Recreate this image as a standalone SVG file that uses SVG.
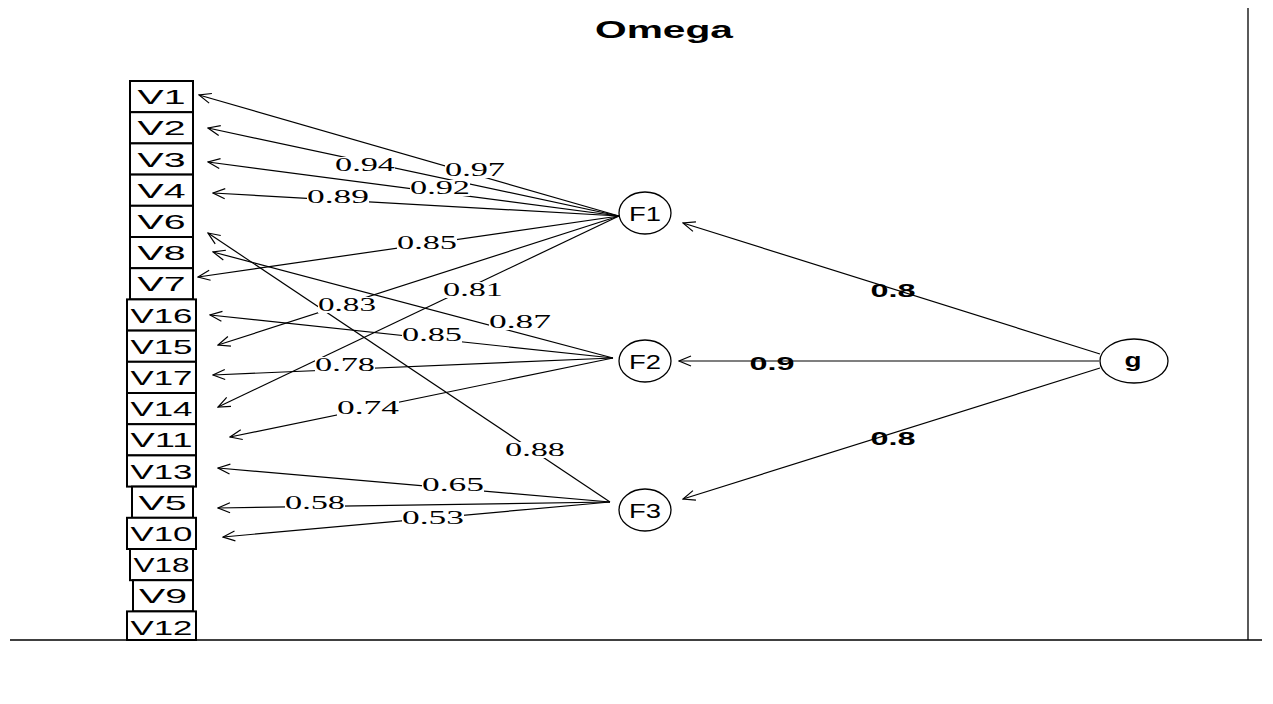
<svg xmlns="http://www.w3.org/2000/svg" width="1273" height="704" viewBox="0 0 1273 704">
<defs>
<marker id="ah" markerWidth="14" markerHeight="12" refX="13" refY="6" orient="auto" markerUnits="userSpaceOnUse">
<path d="M1,1 L13,6 L1,11" fill="none" stroke="#000" stroke-width="1.2"/>
</marker>
<style>
.box{fill:#fff;stroke:#000;stroke-width:2}
.vt{font-family:"Liberation Sans",Arial,sans-serif;font-size:21px;fill:#000;text-anchor:middle}
.ell{fill:#fff;stroke:#000;stroke-width:1.3}
.ft{font-family:"Liberation Sans",Arial,sans-serif;font-size:21px;fill:#000;text-anchor:middle}
.edge{stroke:#000;stroke-width:1.2;fill:none;marker-end:url(#ah)}
.lbg{fill:#fff}
.lt{font-family:"Liberation Serif","Times New Roman",serif;font-size:18px;fill:#000;text-anchor:middle}
.gt{font-family:"Liberation Sans",Arial,sans-serif;font-size:18px;font-weight:bold;fill:#000;text-anchor:middle}
.frame{stroke:#000;stroke-width:1.3}
</style>
</defs>
<rect width="1273" height="704" fill="#fff"/>
<text x="664" y="38" font-family="Liberation Sans,Arial,sans-serif" font-size="23" font-weight="bold" text-anchor="middle" textLength="138" lengthAdjust="spacingAndGlyphs">Omega</text>
<line class="frame" x1="1248" y1="8" x2="1248" y2="640"/>
<line class="frame" x1="10" y1="640" x2="1262" y2="640"/>

<g id="connectors">
<line class="edge" x1="619" y1="216" x2="199" y2="95"/>
<line class="edge" x1="619" y1="216" x2="208" y2="128"/>
<line class="edge" x1="619" y1="216" x2="208" y2="162"/>
<line class="edge" x1="619" y1="216" x2="213" y2="193"/>
<line class="edge" x1="619" y1="216" x2="198" y2="277"/>
<line class="edge" x1="619" y1="216" x2="218" y2="345"/>
<line class="edge" x1="619" y1="216" x2="218" y2="407"/>
<line class="edge" x1="613" y1="358" x2="210" y2="315"/>
<line class="edge" x1="613" y1="358" x2="213" y2="252"/>
<line class="edge" x1="613" y1="358" x2="213" y2="375"/>
<line class="edge" x1="613" y1="358" x2="230" y2="437"/>
<line class="edge" x1="610" y1="502" x2="208" y2="233"/>
<line class="edge" x1="610" y1="502" x2="218" y2="468"/>
<line class="edge" x1="610" y1="502" x2="218" y2="508"/>
<line class="edge" x1="610" y1="502" x2="223" y2="537"/>
<line class="edge" x1="1100" y1="354" x2="683" y2="223"/>
<line class="edge" x1="1099" y1="361" x2="679" y2="361"/>
<line class="edge" x1="1100" y1="368" x2="683" y2="499"/>
<g id="labels">
<rect class="lbg" x="445" y="162" width="60" height="16"/><text class="lt" x="475" y="176" textLength="60" lengthAdjust="spacingAndGlyphs">0.97</text>
<rect class="lbg" x="335" y="157" width="60" height="16"/><text class="lt" x="365" y="171" textLength="60" lengthAdjust="spacingAndGlyphs">0.94</text>
<rect class="lbg" x="410" y="180" width="60" height="16"/><text class="lt" x="440" y="194" textLength="60" lengthAdjust="spacingAndGlyphs">0.92</text>
<rect class="lbg" x="307" y="189" width="62" height="16"/><text class="lt" x="338" y="203" textLength="62" lengthAdjust="spacingAndGlyphs">0.89</text>
<rect class="lbg" x="397" y="235" width="60" height="16"/><text class="lt" x="427" y="249" textLength="60" lengthAdjust="spacingAndGlyphs">0.85</text>
<rect class="lbg" x="443" y="282" width="60" height="16"/><text class="lt" x="473" y="296" textLength="60" lengthAdjust="spacingAndGlyphs">0.81</text>
<rect class="lbg" x="318" y="297" width="58" height="16"/><text class="lt" x="347" y="311" textLength="58" lengthAdjust="spacingAndGlyphs">0.83</text>
<rect class="lbg" x="489" y="314" width="62" height="16"/><text class="lt" x="520" y="328" textLength="62" lengthAdjust="spacingAndGlyphs">0.87</text>
<rect class="lbg" x="402" y="327" width="60" height="16"/><text class="lt" x="432" y="341" textLength="60" lengthAdjust="spacingAndGlyphs">0.85</text>
<rect class="lbg" x="315" y="357" width="60" height="16"/><text class="lt" x="345" y="371" textLength="60" lengthAdjust="spacingAndGlyphs">0.78</text>
<rect class="lbg" x="337" y="400" width="62" height="16"/><text class="lt" x="368" y="414" textLength="62" lengthAdjust="spacingAndGlyphs">0.74</text>
<rect class="lbg" x="505" y="442" width="60" height="16"/><text class="lt" x="535" y="456" textLength="60" lengthAdjust="spacingAndGlyphs">0.88</text>
<rect class="lbg" x="422" y="477" width="62" height="16"/><text class="lt" x="453" y="491" textLength="62" lengthAdjust="spacingAndGlyphs">0.65</text>
<rect class="lbg" x="285" y="495" width="60" height="16"/><text class="lt" x="315" y="509" textLength="60" lengthAdjust="spacingAndGlyphs">0.58</text>
<rect class="lbg" x="402" y="510" width="62" height="16"/><text class="lt" x="433" y="524" textLength="62" lengthAdjust="spacingAndGlyphs">0.53</text>
<text class="gt" x="893" y="297" textLength="45" lengthAdjust="spacingAndGlyphs">0.8</text>
<text class="gt" x="772" y="370" textLength="45" lengthAdjust="spacingAndGlyphs">0.9</text>
<text class="gt" x="893" y="445" textLength="45" lengthAdjust="spacingAndGlyphs">0.8</text>
</g>
</g>

<g id="V1"><rect class="box" x="130" y="81" width="63" height="31.2"/><text class="vt" x="161.5" y="104.1" textLength="48" lengthAdjust="spacingAndGlyphs">V1</text></g>
<g id="V2"><rect class="box" x="130" y="112.2" width="63" height="31.2"/><text class="vt" x="161.5" y="135.3" textLength="48" lengthAdjust="spacingAndGlyphs">V2</text></g>
<g id="V3"><rect class="box" x="130" y="143.4" width="63" height="31.2"/><text class="vt" x="161.5" y="166.5" textLength="48" lengthAdjust="spacingAndGlyphs">V3</text></g>
<g id="V4"><rect class="box" x="130" y="174.6" width="63" height="31.2"/><text class="vt" x="161.5" y="197.7" textLength="48" lengthAdjust="spacingAndGlyphs">V4</text></g>
<g id="V6"><rect class="box" x="130" y="205.8" width="63" height="31.2"/><text class="vt" x="161.5" y="228.9" textLength="48" lengthAdjust="spacingAndGlyphs">V6</text></g>
<g id="V8"><rect class="box" x="130" y="237" width="63" height="31.2"/><text class="vt" x="161.5" y="260.1" textLength="48" lengthAdjust="spacingAndGlyphs">V8</text></g>
<g id="V7"><rect class="box" x="130" y="268.2" width="63" height="31.2"/><text class="vt" x="161.5" y="291.3" textLength="48" lengthAdjust="spacingAndGlyphs">V7</text></g>
<g id="V16"><rect class="box" x="127" y="299.4" width="69" height="31.2"/><text class="vt" x="161.5" y="322.5" textLength="62" lengthAdjust="spacingAndGlyphs">V16</text></g>
<g id="V15"><rect class="box" x="127" y="330.6" width="69" height="31.2"/><text class="vt" x="161.5" y="353.7" textLength="62" lengthAdjust="spacingAndGlyphs">V15</text></g>
<g id="V17"><rect class="box" x="127" y="361.8" width="69" height="31.2"/><text class="vt" x="161.5" y="384.9" textLength="62" lengthAdjust="spacingAndGlyphs">V17</text></g>
<g id="V14"><rect class="box" x="127" y="393" width="69" height="31.2"/><text class="vt" x="161.5" y="416.1" textLength="62" lengthAdjust="spacingAndGlyphs">V14</text></g>
<g id="V11"><rect class="box" x="127" y="424.2" width="69" height="31.2"/><text class="vt" x="161.5" y="447.3" textLength="62" lengthAdjust="spacingAndGlyphs">V11</text></g>
<g id="V13"><rect class="box" x="127" y="455.4" width="69" height="31.2"/><text class="vt" x="161.5" y="478.5" textLength="62" lengthAdjust="spacingAndGlyphs">V13</text></g>
<g id="V5"><rect class="box" x="132" y="486.6" width="61" height="31.2"/><text class="vt" x="162.5" y="509.7" textLength="48" lengthAdjust="spacingAndGlyphs">V5</text></g>
<g id="V10"><rect class="box" x="127" y="517.8" width="69" height="31.2"/><text class="vt" x="161.5" y="540.9" textLength="62" lengthAdjust="spacingAndGlyphs">V10</text></g>
<g id="V18"><rect class="box" x="130" y="549" width="63" height="31.2"/><text class="vt" x="161.5" y="572.1" textLength="56" lengthAdjust="spacingAndGlyphs">V18</text></g>
<g id="V9"><rect class="box" x="133" y="580.2" width="60" height="31.2"/><text class="vt" x="163" y="603.3" textLength="48" lengthAdjust="spacingAndGlyphs">V9</text></g>
<g id="V12"><rect class="box" x="127" y="611.4" width="69" height="28.6"/><text class="vt" x="161.5" y="634.5" textLength="62" lengthAdjust="spacingAndGlyphs">V12</text></g>

<g id="F1"><ellipse class="ell" cx="645" cy="213" rx="26" ry="21"/><text class="ft" x="645" y="221" textLength="32" lengthAdjust="spacingAndGlyphs">F1</text></g>
<g id="F2"><ellipse class="ell" cx="645" cy="361" rx="26" ry="21"/><text class="ft" x="645" y="369" textLength="32" lengthAdjust="spacingAndGlyphs">F2</text></g>
<g id="F3"><ellipse class="ell" cx="645" cy="510" rx="26" ry="21"/><text class="ft" x="645" y="518" textLength="32" lengthAdjust="spacingAndGlyphs">F3</text></g>
<g id="g"><ellipse class="ell" cx="1134" cy="361" rx="34" ry="22"/><text class="ft" x="1133" y="367" font-weight="bold" textLength="17" lengthAdjust="spacingAndGlyphs">g</text></g>
</svg>
